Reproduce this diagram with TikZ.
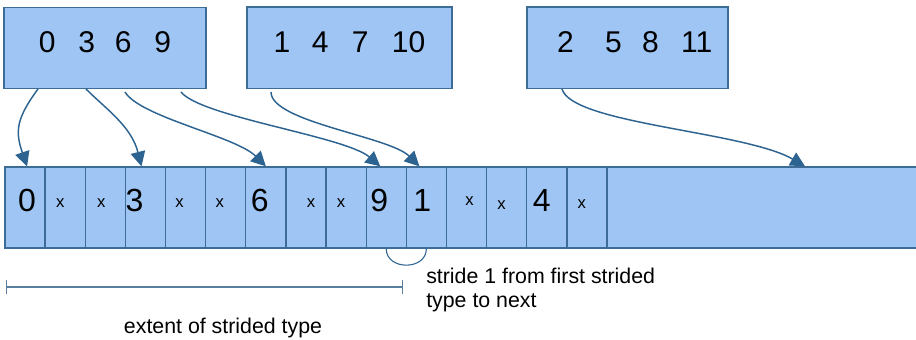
\documentclass[tikz,border=0pt]{standalone}
\usepackage{fontspec}
\setmainfont{Liberation Sans}
\usetikzlibrary{arrows.meta,positioning,calc}
\definecolor{cellFill}{HTML}{9FC5F4}
\definecolor{cellLine}{HTML}{3D6C96}
\definecolor{arrBlue}{HTML}{2D6391}
\definecolor{extLine}{HTML}{5A7E9E}
\tikzset{
  sbox/.style={draw=cellLine,fill=cellFill,line width=1pt,inner sep=0pt,
    minimum height=61pt,text depth=8.25pt,font=\fontsize{22.5pt}{27pt}\selectfont},
  scell/.style={draw=cellLine,fill=cellFill,line width=1pt,inner sep=0pt,
    minimum width=30.1pt,minimum height=60.75pt},
  sdig/.style={inner sep=0pt,font=\fontsize{24pt}{28pt}\selectfont},
  sx/.style={inner sep=0pt,font=\fontsize{12.5pt}{15pt}\selectfont},
  sflow/.style={-{Triangle[length=11pt,width=11pt]},draw=arrBlue,line width=1.1pt},
  sarc/.style={draw=arrBlue,line width=0.8pt},
  sext/.style={{Bar[width=11pt]}-{Bar[width=11pt]},draw=extLine,line width=0.8pt},
  snote/.style={inner sep=0pt,font=\fontsize{16pt}{18pt}\selectfont,align=left},
}

\begin{document}
\begin{tikzpicture}[x=0.75pt,y=-0.75pt]
\useasboundingbox (0,0) rectangle (916,339);
\node[sbox,minimum width=151.5pt] (ga) at (105,48) {0\hspace{17pt}3\hspace{15pt}6\hspace{17pt}9};
\node[sbox,minimum width=153.75pt] (gb) at (349.5,47.5) {1\hspace{16.2pt}4\hspace{17.5pt}7\hspace{17.5pt}10\hspace{10.5pt}};
\node[sbox,minimum width=150.75pt] (gc) at (627.5,47.5) {\hspace{10.8pt}2\hspace{23.5pt}5\hspace{15.2pt}8\hspace{16.7pt}11};
\foreach \i in {0,...,14}
  \node[scell] (c\i) at ({25.07+40.13*\i},207.5) {};
\node[scell,minimum width=235.5pt] (crest) at (764,207.5) {};
\foreach \i/\lab/\sty/\dx/\dy in {0/0/sdig/2/-7.5, 1/x/sx/-5/-4, 2/x/sx/-4/-4,
    3/3/sdig/-11/-7.5, 4/x/sx/-6/-4, 5/x/sx/-6/-4, 6/6/sdig/-6/-7.5,
    7/x/sx/5/-4, 8/x/sx/-5/-4, 9/9/sdig/-7/-7.5, 10/1/sdig/-4/-7.5,
    11/x/sx/3/-6, 12/x/sx/-5/-2, 13/4/sdig/-5/-7.5, 14/x/sx/-5/-3}
  \node[\sty] (t\i) at ($(c\i.center)+(\dx,\dy)$) {\lab};
\coordinate (s0) at (38,89);
\coordinate (s3) at (86,89);
\coordinate (s6) at (125,92);
\coordinate (s9) at (181,92);
\coordinate (s1) at (271,92);
\coordinate (s2) at (562,89);
\draw[sflow] (s0) .. controls +(-22,30) and +(-12,-35) .. ($(c0.north)+(2,0)$);
\draw[sflow] (s3) .. controls +(20,20) and +(-10,-40) .. ($(c3.north)+(-4,0)$);
\draw[sflow] (s6) .. controls +(15,25) and +(-30,-30) .. (c6.north);
\draw[sflow] (s9) .. controls +(20,25) and +(-35,-30) .. ($(c9.north)+(-6,0)$);
\draw[sflow] (s1) .. controls +(0,30) and +(-30,-30) .. ($(c10.north)+(-7,0)$);
\draw[sflow] (s2) .. controls +(10,35) and +(-60,-35) .. ($(crest.north)+(41,0)$);
\draw[sarc] (c9.south) .. controls +(0,22) and +(0,22) .. (c10.south);
\coordinate (el) at (6,287);
\coordinate (er) at (403,287);
\draw[sext] (el) -- (er);
\node[snote,anchor=base] (lext) at (223,333) {extent of strided type};
\node[snote,anchor=north west] (lstride) at (426,268) {stride 1 from first strided\\type to next};
\end{tikzpicture}
\end{document}
